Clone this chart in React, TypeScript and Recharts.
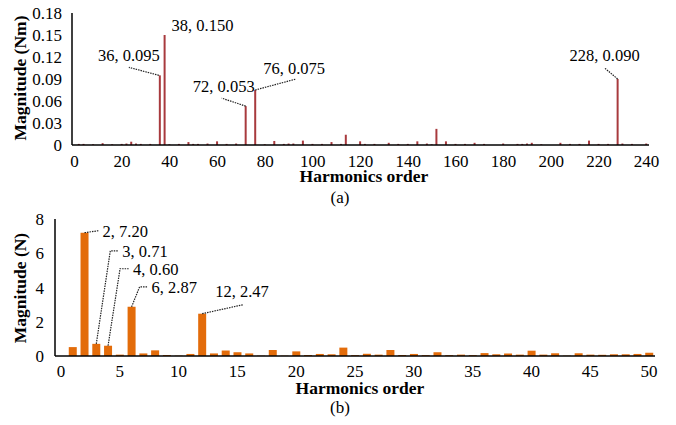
import { BarChart, Bar, XAxis, YAxis, LabelList } from "recharts";

// (a) torque harmonics, sparse list of orders that show a bar
const torqueOrders = [
  2, 4, 8, 12, 16, 20, 22, 24, 26, 28, 32, 36, 38, 40, 44, 48, 50, 52, 56, 60,
  64, 68, 72, 76, 80, 84, 88, 90, 92, 96, 100, 104, 108, 112, 114, 120, 122,
  126, 132, 136, 140, 144, 148, 150, 152, 156, 160, 164, 168, 172, 180, 186,
  188, 190, 192, 196, 204, 208, 212, 216, 220, 224, 228, 230, 234, 240,
];
const torqueValues = [
  0.0015, 0.0015, 0.001, 0.0025, 0.001, 0.0015, 0.002, 0.0045, 0.002, 0.0015,
  0.0015, 0.095, 0.15, 0.001, 0.0015, 0.004, 0.0015, 0.0015, 0.002, 0.005,
  0.0015, 0.002, 0.053, 0.075, 0.001, 0.0055, 0.0015, 0.002, 0.002, 0.006,
  0.0015, 0.0015, 0.004, 0.0015, 0.014, 0.005, 0.0015, 0.0015, 0.003, 0.0015,
  0.0015, 0.005, 0.002, 0.001, 0.022, 0.005, 0.0015, 0.0015, 0.003, 0.0015,
  0.002, 0.0015, 0.0015, 0.002, 0.003, 0.001, 0.003, 0.0015, 0.0015, 0.006,
  0.0015, 0.0015, 0.09, 0.002, 0.0015, 0.002,
];
const torqueTicksX = [0, 20, 40, 60, 80, 100, 120, 140, 160, 180, 200, 220, 240];
const torqueTicksY = [0, 0.03, 0.06, 0.09, 0.12, 0.15, 0.18];
const torqueLabelOrders = [36, 38, 72, 76, 228];
const torqueLabels = ["36, 0.095", "38, 0.150", "72, 0.053", "76, 0.075", "228, 0.090"];

// (b) force harmonics
const forceOrders = [
  1, 2, 3, 4, 5, 6, 7, 8, 9, 10, 11, 12, 13, 14, 15, 16, 17, 18, 19, 20, 21, 22,
  23, 24, 25, 26, 27, 28, 29, 30, 31, 32, 33, 34, 35, 36, 37, 38, 39, 40, 41,
  42, 43, 44, 45, 46, 47, 48, 49, 50,
];
const forceValues = [
  0.52, 7.2, 0.71, 0.6, 0.08, 2.87, 0.15, 0.33, 0.06, 0.02, 0.12, 2.47, 0.15,
  0.32, 0.22, 0.15, 0.02, 0.35, 0.02, 0.27, 0.06, 0.12, 0.1, 0.49, 0.05, 0.13,
  0.08, 0.35, 0.06, 0.12, 0.05, 0.22, 0.05, 0.08, 0.05, 0.17, 0.1, 0.14, 0.08,
  0.31, 0.08, 0.16, 0.02, 0.16, 0.08, 0.07, 0.1, 0.1, 0.12, 0.19,
];
const forceTicksX = [0, 5, 10, 15, 20, 25, 30, 35, 40, 45, 50];
const forceTicksY = [0, 2, 4, 6, 8];
const forceLabelOrders = [2, 3, 4, 6, 12];
const forceLabels = ["2, 7.20", "3, 0.71", "4, 0.60", "6, 2.87", "12, 2.47"];

// label placement relative to the bar top: text point, anchor, leader polyline
type Place = { dx: number; dy: number; anchor: "start" | "middle" | "end"; line: number[][] };
const torquePlace: Record<number, Place> = {
  36: { dx: 0, dy: -20, anchor: "end", line: [[-1, 0], [-31, -8]] },
  38: { dx: 7, dy: -10, anchor: "start", line: [] },
  72: { dx: 9, dy: -20, anchor: "end", line: [[0, 0], [-24, -8]] },
  76: { dx: 8, dy: -22, anchor: "start", line: [[0, 0], [41, -11]] },
  228: { dx: -13, dy: -24, anchor: "middle", line: [[0, 0], [-13, -11]] },
};
const forcePlace: Record<number, Place> = {
  2: { dx: 18, dy: -1, anchor: "start", line: [[0, 0], [14, -2]] },
  3: { dx: 26, dy: -92, anchor: "start", line: [[0, 0], [14, -93], [22, -93]] },
  4: { dx: 25, dy: -76, anchor: "start", line: [[0, 0], [12, -77], [21, -77]] },
  6: { dx: 20, dy: -19, anchor: "start", line: [[0, 0], [8, -20], [16, -20]] },
  12: { dx: 13, dy: -22, anchor: "start", line: [[0, 0], [41, -9]] },
};

const torqueData = torqueOrders.map((order, i) => ({ order, value: torqueValues[i] }));
const forceData = forceOrders.map((order, i) => ({ order, value: forceValues[i] }));

const FONT = "Liberation Serif";
const tickStyle = { fontFamily: FONT, fontSize: 17, fill: "#000" };

function annotator(
  data: { order: number }[],
  orders: number[],
  texts: string[],
  place: Record<number, Place>
) {
  return (props: any) => {
    const row = data[props.index];
    if (!row) return null;
    const k = orders.indexOf(row.order);
    if (k < 0) return null;
    const vb = props.viewBox || props;
    const cx = Number(vb.x) + Number(vb.width) / 2;
    const top = Number(vb.y);
    const p = place[row.order];
    const pts = p.line.map(([a, b]) => `${cx + a},${top + b}`).join(" ");
    return (
      <g>
        {p.line.length > 0 && (
          <polyline points={pts} fill="none" stroke="#222" strokeWidth={1.2} strokeDasharray="1.5 1" />
        )}
        <text
          x={cx + p.dx}
          y={top + p.dy}
          textAnchor={p.anchor}
          dominantBaseline="central"
          fontFamily={FONT}
          fontSize={16.5}
          fill="#000"
        >
          {texts[k]}
        </text>
      </g>
    );
  };
}

const fmtTorque = (v: number) => (v === 0 ? "0" : v.toFixed(2));

export default function App() {
  return (
    <div style={{ position: "absolute", left: 0, top: 0, width: 676, height: 425, background: "#fff" }}>
      <div style={{ position: "absolute", left: 0, top: 0 }}>
        <BarChart width={676} height={185} data={torqueData} margin={{ top: 13, right: 27, bottom: 10, left: 0 }}>
          <XAxis
            dataKey="order"
            type="number"
            domain={[-1, 241]}
            ticks={torqueTicksX}
            interval={0}
            tickLine={false}
            tickSize={0}
            tickMargin={10}
            height={30}
            axisLine={{ stroke: "#000", strokeWidth: 1.5 }}
            tick={tickStyle}
          />
          <XAxis xAxisId="top" orientation="top" dataKey="order" type="number" domain={[-1, 241]} tick={false} tickLine={false} height={0} axisLine={{ stroke: "#222" }} />
          <YAxis
            type="number"
            domain={[0, 0.18]}
            ticks={torqueTicksY}
            interval={0}
            tickFormatter={fmtTorque}
            tickLine={false}
            tickSize={0}
            tickMargin={10}
            width={72}
            axisLine={{ stroke: "#000", strokeWidth: 1.5 }}
            tick={tickStyle}
          />
          <YAxis yAxisId="right" orientation="right" domain={[0, 0.18]} tick={false} tickLine={false} width={0} axisLine={{ stroke: "#222" }} />
          <Bar dataKey="value" fill="#A83A3E" barSize={2} isAnimationActive={false}>
            <LabelList dataKey="value" content={annotator(torqueData, torqueLabelOrders, torqueLabels, torquePlace)} />
          </Bar>
        </BarChart>
      </div>
      <div style={{ position: "absolute", left: 0, top: 190 }}>
        <BarChart width={676} height={235} data={forceData} margin={{ top: 29, right: 21, bottom: 39, left: 0 }}>
          <XAxis
            dataKey="order"
            type="number"
            domain={[-0.5, 50.5]}
            ticks={forceTicksX}
            interval={0}
            tickLine={false}
            tickSize={0}
            tickMargin={9}
            height={30}
            axisLine={{ stroke: "#000", strokeWidth: 1.5 }}
            tick={tickStyle}
          />
          <XAxis xAxisId="top" orientation="top" dataKey="order" type="number" domain={[-0.5, 50.5]} tick={false} tickLine={false} height={0} axisLine={{ stroke: "#222" }} />
          <YAxis
            type="number"
            domain={[0, 8]}
            ticks={forceTicksY}
            interval={0}
            tickLine={false}
            tickSize={0}
            tickMargin={11}
            width={55}
            axisLine={{ stroke: "#000", strokeWidth: 1.5 }}
            tick={tickStyle}
          />
          <YAxis yAxisId="right" orientation="right" domain={[0, 8]} tick={false} tickLine={false} width={0} axisLine={{ stroke: "#222" }} />
          <Bar dataKey="value" fill="#E36C0A" barSize={8} isAnimationActive={false}>
            <LabelList dataKey="value" content={annotator(forceData, forceLabelOrders, forceLabels, forcePlace)} />
          </Bar>
        </BarChart>
      </div>
      <svg width={676} height={425} style={{ position: "absolute", left: 0, top: 0, pointerEvents: "none" }}>
        <g fill="#000">
          <text x={20} y={78} transform="rotate(-90 20 78)" textAnchor="middle" dominantBaseline="central" fontFamily={FONT} fontSize={17.5} fontWeight="bold">
            Magnitude (Nm)
          </text>
          <text x={364} y={176} textAnchor="middle" dominantBaseline="central" fontFamily={FONT} fontSize={17.5} fontWeight="bold">
            Harmonics order
          </text>
          <text x={340} y={197} textAnchor="middle" dominantBaseline="central" fontFamily={FONT} fontSize={17}>
            (a)
          </text>
          <text x={20} y={288} transform="rotate(-90 20 288)" textAnchor="middle" dominantBaseline="central" fontFamily={FONT} fontSize={17.5} fontWeight="bold">
            Magnitude (N)
          </text>
          <text x={360} y={388} textAnchor="middle" dominantBaseline="central" fontFamily={FONT} fontSize={17.5} fontWeight="bold">
            Harmonics order
          </text>
          <text x={340} y={407} textAnchor="middle" dominantBaseline="central" fontFamily={FONT} fontSize={17}>
            (b)
          </text>
        </g>
      </svg>
    </div>
  );
}
